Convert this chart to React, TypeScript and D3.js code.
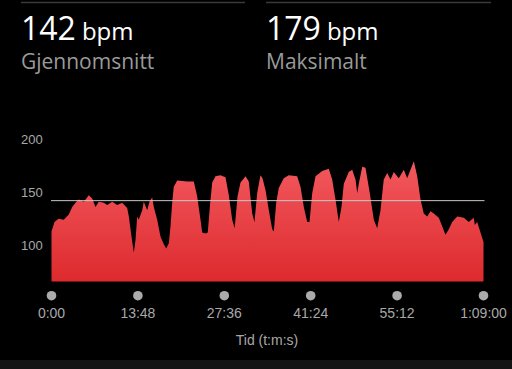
import React from "react";
import * as d3 from "d3";

const times: number[] = [
  0, 0.48, 1.12, 1.96, 2.76, 3.31, 3.83, 4.36, 5.16, 5.96, 6.5, 7.03, 7.55, 8.35, 8.9, 9.69, 10.49, 11.29, 12.09, 12.35,
  12.78, 13.15, 13.42, 13.69, 13.94, 14.49, 14.74, 15.28, 15.65, 16.08, 16.34, 16.88, 17.41, 17.94, 18.32, 18.74, 19.01,
  19.28, 19.53, 20.08, 21.67, 22.73, 23.27, 23.8, 24.07, 24.6, 24.96, 25.32, 25.67, 26.19, 26.99, 27.79, 28.32, 28.86,
  29.26, 29.71, 30.19, 30.99, 31.51, 32.06, 32.42, 32.85, 33.38, 33.7, 34.18, 34.71, 35.25, 35.51, 35.89, 36.3, 37.1,
  37.9, 39.24, 39.77, 40.3, 40.84, 41.21, 41.64, 42.17, 43.24, 44.29, 44.83, 45.36, 45.89, 46.32, 46.69, 47.48, 48.03,
  48.56, 48.83, 49.08, 49.63, 50.15, 50.84, 51.48, 52.02, 52.55, 53.07, 53.62, 54.15, 54.67, 55.47, 56.27, 56.81, 57.34,
  57.87, 58.41, 58.94, 59.46, 60.01, 60.53, 61.06, 61.86, 62.4, 62.93, 63.46, 64.0, 64.8, 65.85, 66.65, 67.45, 67.61,
  67.99, 68.52, 69.0,
];

const bpm: number[] = [
  113, 122, 125, 124, 129, 136, 140, 143, 141, 147, 144, 136, 141, 140, 138, 141, 138, 140, 135, 127,
  108, 93, 105, 127, 124, 133, 141, 133, 141, 145, 136, 124, 108, 101, 97, 102, 118,
  140, 155, 161, 160, 160, 146, 124, 112, 111, 112, 138, 159, 165, 166, 164, 147, 124,
  116, 146, 159, 165, 160, 130, 122, 149, 166, 163, 152, 133, 115, 113, 140, 154, 163,
  166, 165, 155, 136, 122, 122, 149, 165, 170, 172, 162, 143, 122, 136, 158, 169, 171,
  162, 149, 158, 174, 173, 149, 124, 116, 133, 162, 168, 162, 169, 163, 171, 163, 171,
  179, 165, 143, 130, 127, 132, 130, 126, 118, 110, 115, 122, 127, 126, 122, 126, 119,
  122, 112, 103,
];

const yTicks: number[] = [100, 150, 200];
const xTickMinutes: number[] = [0, 13.8, 27.6, 41.4, 55.2, 69];
const xTickLabels: string[] = ["0:00", "13:48", "27:36", "41:24", "55:12", "1:09:00"];
const averageBpm = 142;
const maxBpm = 179;
const yFloor = 66;

const W = 512;
const H = 369;
const font = "'Liberation Sans', Arial, sans-serif";
const headFont = "'Open Sans', 'Liberation Sans', sans-serif";

export default function App() {
  const x = d3.scaleLinear().domain([0, 69]).range([51.5, 483.5]);
  const y = d3.scaleLinear().domain([100, 200]).range([245.3, 139]);

  const data = times.map((t, i) => ({ t, v: bpm[i] }));
  const area = d3
    .area<{ t: number; v: number }>()
    .x((d) => x(d.t))
    .y0(y(yFloor))
    .y1((d) => y(d.v))
    .curve(d3.curveLinear);

  return (
    <svg
      width={W}
      height={H}
      style={{ position: "absolute", left: 0, top: 0, background: "#000", display: "block" }}
      fontFamily={font}
    >
      <defs>
        <linearGradient id="hrFill" x1="0" y1="0" x2="0" y2="1" gradientUnits="objectBoundingBox">
          <stop offset="0" stopColor="#f2595e" />
          <stop offset="1" stopColor="#dd2a2e" />
        </linearGradient>
      </defs>
      <rect x={0} y={0} width={W} height={H} fill="#000" />
      <rect x={0} y={360} width={W} height={9} fill="#141414" />

      {/* header */}
      <line x1={21} x2={245} y1={2.5} y2={2.5} stroke="#3a3a3a" strokeWidth={1.5} />
      <line x1={266} x2={491} y1={2.5} y2={2.5} stroke="#3a3a3a" strokeWidth={1.5} />
      <g fontFamily={headFont}>
        <text x={21} y={40} fill="#fff" fontSize={32} fontWeight={500}>
          {averageBpm}
          <tspan dx={6} fontSize={24}>bpm</tspan>
        </text>
        <text x={21} y={68.5} fill="#9a9a9a" fontSize={21}>Gjennomsnitt</text>
        <text x={266} y={40} fill="#fff" fontSize={32} fontWeight={500}>
          {maxBpm}
          <tspan dx={6} fontSize={24}>bpm</tspan>
        </text>
        <text x={266} y={68.5} fill="#9a9a9a" fontSize={21}>Maksimalt</text>
      </g>

      {/* y labels */}
      {yTicks.map((v) => (
        <text key={v} x={21} y={y(v)} dy="0.35em" fill="#a8a8a8" fontSize={13}>
          {v}
        </text>
      ))}

      {/* area */}
      <path d={area(data) || ""} fill="url(#hrFill)" />

      {/* average line */}
      <line x1={51} x2={484.5} y1={y(averageBpm)} y2={y(averageBpm)} stroke="#c8c8c8" strokeWidth={1} />

      {/* x ticks */}
      {xTickMinutes.map((m, i) => (
        <g key={i}>
          <circle cx={x(m)} cy={295.7} r={4.8} fill="#ababab" />
          <text x={x(m)} y={318} textAnchor="middle" fill="#a8a8a8" fontSize={14}>
            {xTickLabels[i]}
          </text>
        </g>
      ))}
      <text x={267} y={345} textAnchor="middle" fill="#a8a8a8" fontSize={14}>
        Tid (t:m:s)
      </text>
    </svg>
  );
}
